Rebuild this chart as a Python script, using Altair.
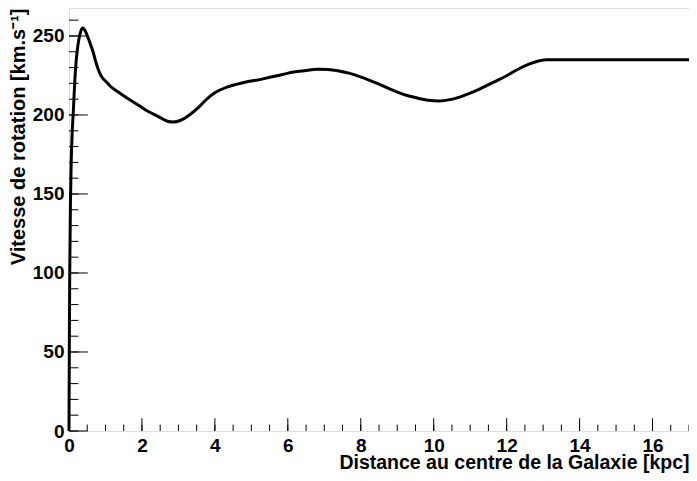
import altair as alt
import pandas as pd

# Rotation curve
r_kpc = [0, 0.01, 0.02, 0.04, 0.06, 0.09, 0.12, 0.16, 0.20, 0.25, 0.30, 0.37,
         0.45, 0.52, 0.60, 0.66, 0.73, 0.80, 0.90, 1.00, 1.12, 1.35, 1.57, 1.85,
         2.11, 2.45, 2.70, 2.86, 3.05, 3.30, 3.56, 3.80, 4.00, 4.38, 4.80, 5.29,
         5.70, 6.01, 6.45, 6.83, 7.10, 7.37, 7.70, 8.01, 8.50, 8.92, 9.25, 9.55,
         9.85, 10.14, 10.45, 10.73, 11.00, 11.27, 11.60, 12.00, 12.30, 12.63,
         12.90, 13.09, 14.0, 15.0, 16.0, 17.0]
v_kms = [0, 60, 100, 145, 170, 190, 203, 222, 235, 245, 251, 255,
         253, 249, 244, 240, 234, 229, 224, 221.5, 218.5, 214.5, 211, 207,
         203, 199, 196, 195.5, 196.5, 200, 205, 210.5, 214, 218, 220.5, 222.7,
         224.8, 226.5, 228, 229, 228.8, 228, 226.3, 224, 219.5, 215.3, 212.5, 210.7,
         209.3, 208.8, 209.7, 211.5, 213.8, 216.5, 220.3, 224.8, 228.8, 232.3,
         234.3, 235, 235, 235, 235, 235]

x_major = [0, 2, 4, 6, 8, 10, 12, 14, 16]
x_minor = [i * 0.5 for i in range(0, 35)]
y_major = [0, 50, 100, 150, 200, 250]
y_minor = list(range(0, 270, 10))

X_DOMAIN = [0, 17]
Y_DOMAIN = [0, 267.7]
W, H = 620, 423
FONT = "Liberation Sans"

curve = pd.DataFrame({"r": r_kpc, "v": v_kms})

xs = alt.Scale(domain=X_DOMAIN, nice=False, zero=False)
ys = alt.Scale(domain=Y_DOMAIN, nice=False, zero=False)

x_axis = alt.Axis(
    values=x_major, ticks=False, domain=False, grid=False, labelFlush=False,
    labelFont=FONT, labelFontWeight="bold", labelFontSize=19, labelColor="black",
    labelPadding=5.5, format="d",
    title="Distance au centre de la Galaxie [kpc]",
    titleFont=FONT, titleFontWeight="bold", titleFontSize=19.5, titleColor="black",
    titleX=W, titleY=37.5, titleAlign="right", titleBaseline="alphabetic", titleAngle=0,
)
y_axis = alt.Axis(
    values=y_major, ticks=False, domain=False, grid=False,
    labelFont=FONT, labelFontWeight="bold", labelFontSize=19, labelColor="black",
    labelPadding=5, format="d",
    title="Vitesse de rotation [km.s⁻¹]",
    titleFont=FONT, titleFontWeight="bold", titleFontSize=20, titleColor="black",
    titleX=-51, titleY=0, titleAlign="right", titleBaseline="middle", titleAngle=270,
)

line = alt.Chart(curve).mark_line(color="black", strokeWidth=3, interpolate="monotone").encode(
    x=alt.X("r:Q", scale=xs, axis=x_axis),
    y=alt.Y("v:Q", scale=ys, axis=y_axis),
)

xmaj = alt.Chart(pd.DataFrame({"r": x_major})).mark_rule(color="black", strokeWidth=1).encode(
    x=alt.X("r:Q", scale=xs), y=alt.value(H), y2=alt.value(H - 12.8))
xmin = alt.Chart(pd.DataFrame({"r": x_minor})).mark_rule(color="black", strokeWidth=1).encode(
    x=alt.X("r:Q", scale=xs), y=alt.value(H), y2=alt.value(H - 6.4))
ymaj = alt.Chart(pd.DataFrame({"v": y_major})).mark_rule(color="black", strokeWidth=1).encode(
    y=alt.Y("v:Q", scale=ys), x=alt.value(0), x2=alt.value(18.8))
ymin = alt.Chart(pd.DataFrame({"v": y_minor})).mark_rule(color="black", strokeWidth=1).encode(
    y=alt.Y("v:Q", scale=ys), x=alt.value(0), x2=alt.value(9.4))

chart = alt.layer(xmin, xmaj, ymin, ymaj, line).properties(
    width=W, height=H, autosize="none",
    padding={"left": 61, "top": 0, "right": 0, "bottom": 42},
).configure_view(stroke="black", strokeWidth=1.2).configure(background="white")

chart.save("out.html", embed_options={"renderer": "svg", "actions": False})
